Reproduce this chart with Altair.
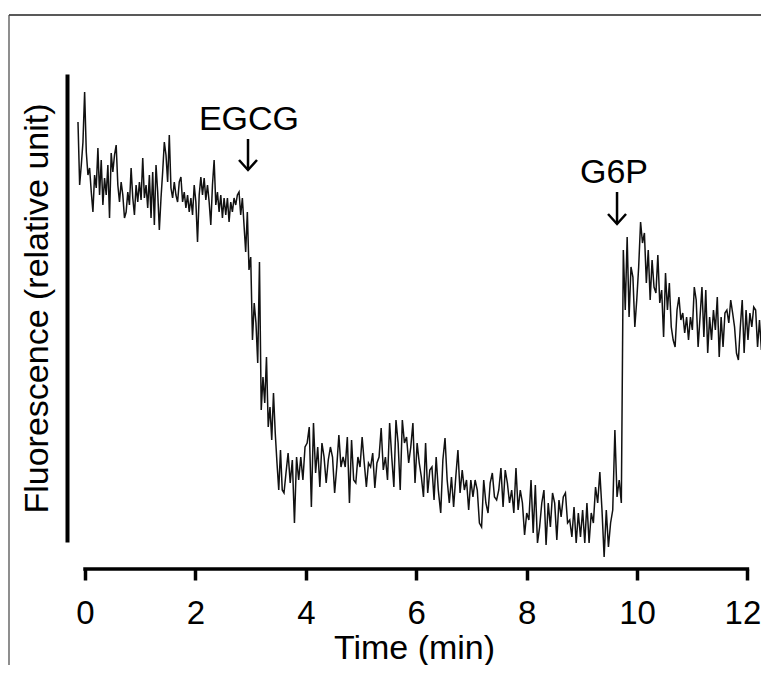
import altair as alt
import pandas as pd
import numpy as np

# ---- recorded trace, read off the figure (fluorescence in relative units) ----
# each segment: start time (min), end time (min), evenly sampled readings
SEG_A_T = [-0.127, 2.971]
SEG_A = [438, 375, 395, 418, 468, 408, 385, 392, 368, 348,
         385, 372, 412, 365, 400, 355, 382, 365, 395, 342,
         407, 388, 405, 415, 375, 358, 378, 365, 342, 348,
         368, 355, 392, 362, 345, 375, 358, 378, 360, 402,
         362, 375, 352, 385, 342, 388, 335, 395, 368, 330,
         362, 388, 418, 405, 378, 425, 372, 362, 378, 365,
         358, 378, 383, 358, 368, 352, 365, 348, 362, 345,
         375, 358, 318, 365, 383, 365, 382, 360, 375, 358,
         335, 375, 400, 355, 368, 348, 365, 342, 362, 345,
         362, 338, 358, 348, 362, 355, 365, 368, 345, 362,
         335, 308, 348, 290]

SEG_B1_T = [3.002, 3.605]
SEG_B1 = [303, 220, 257, 237, 197, 298, 150, 183, 157, 203,
          133, 153, 120, 167, 127, 97, 70, 110, 70, 67]

SEG_B2_T = [3.641, 6.400]
SEG_B2 = [87, 107, 77, 100, 37, 103, 80, 103, 80, 113,
          117, 133, 53, 137, 87, 113, 73, 117, 103, 77,
          100, 113, 103, 67, 93, 125, 93, 103, 93, 123,
          57, 120, 80, 77, 103, 93, 123, 97, 73, 97,
          93, 107, 72, 97, 103, 132, 90, 103, 80, 137,
          103, 73, 140, 117, 70, 140, 117, 123, 97, 113,
          137, 77, 117, 97, 83, 63, 117, 67, 90, 93,
          60, 103, 70]

SEG_C_T = [6.444, 9.716]
SEG_C = [47, 100, 122, 80, 57, 83, 53, 83, 110, 67,
         90, 70, 80, 50, 80, 63, 80, 70, 37, 33,
         80, 57, 47, 77, 87, 63, 60, 70, 92, 53,
         90, 77, 57, 70, 47, 92, 50, 70, 57, 25,
         47, 40, 80, 27, 75, 17, 33, 57, 70, 15,
         57, 33, 67, 57, 20, 60, 43, 63, 67, 37,
         40, 23, 53, 17, 47, 23, 50, 17, 57, 17,
         47, 37, 73, 57, 88, 50, 3, 50, 13, 37,
         50, 130, 63, 80, 57]

SEG_D_T = [9.752, 12.288]
SEG_D = [310, 250, 323, 243, 293, 283, 233, 260, 293, 338,
         317, 327, 277, 310, 260, 300, 273, 267, 305, 257,
         270, 223, 287, 250, 277, 233, 220, 213, 250, 263,
         240, 247, 227, 243, 220, 243, 230, 273, 260, 213,
         243, 273, 223, 270, 207, 243, 220, 250, 230, 263,
         203, 243, 213, 247, 250, 237, 260, 247, 233, 207,
         200, 233, 260, 207, 250, 220, 247, 233, 253, 250,
         213, 240, 210, 243]

X_TICKS = [0, 2, 4, 6, 8, 10, 12]
AXIS_SPAN = [0, 12]

ANNOT_LABELS = ["EGCG", "G6P"]
ANNOT_T = [2.971, 9.583]
ANNOT_V = [430, 377]
ARROW_T = [2.953, 9.638]
ARROW_TOP = [421, 368]
ARROW_TIP = [390, 336]

FONT = "Liberation Sans"


def segment(tspan, vals):
    return pd.DataFrame({"t": np.linspace(tspan[0], tspan[1], len(vals)), "v": vals})


trace = pd.concat(
    [segment(SEG_A_T, SEG_A), segment(SEG_B1_T, SEG_B1), segment(SEG_B2_T, SEG_B2),
     segment(SEG_C_T, SEG_C), segment(SEG_D_T, SEG_D)],
    ignore_index=True,
)
trace["i"] = np.arange(len(trace))

x_enc = alt.X(
    "t:Q",
    scale=alt.Scale(domain=[-0.326, 12.246], nice=False, zero=False),
    axis=alt.Axis(
        values=X_TICKS, domain=False, grid=False, offset=27,
        tickSize=11, tickWidth=3.5, tickColor="black",
        labelFont=FONT, labelFontSize=33, labelColor="black", labelPadding=17,
        labelFlush=False,
        labelOffset={"condition": {"test": "datum.value === 12", "value": -5}, "value": 0},
        title="Time (min)", titleFont=FONT, titleFontSize=34, titleFontWeight="normal",
        titleColor="black", titleBaseline="alphabetic", titleY=89,
    ),
)
y_enc = alt.Y(
    "v:Q",
    scale=alt.Scale(domain=[18, 486], nice=False, zero=False),
    axis=alt.Axis(
        ticks=False, labels=False, grid=False, domain=True,
        domainWidth=4, domainColor="black",
        title="Fluorescence (relative unit)", titleFont=FONT, titleFontSize=34,
        titleFontWeight="normal", titleColor="black", titlePadding=13,
    ),
)

line = alt.Chart(trace).mark_line(color="#111111", strokeWidth=1.5).encode(
    x=x_enc, y=y_enc, order="i:Q"
)

axis_line = alt.Chart(pd.DataFrame({"t": [AXIS_SPAN[0]], "t2": [AXIS_SPAN[1]]})).mark_rule(
    color="black", strokeWidth=3.5, strokeCap="square"
).encode(x=x_enc, x2="t2:Q", y=alt.value(495))

annot = pd.DataFrame({"t": ANNOT_T, "v": ANNOT_V, "label": ANNOT_LABELS})
labels = alt.Chart(annot).mark_text(
    font=FONT, fontSize=34, color="black", align="center", baseline="alphabetic"
).encode(x=x_enc, y=y_enc, text="label:N")

arrows = pd.DataFrame({"t": ARROW_T, "v": ARROW_TIP, "v2": ARROW_TOP})
shafts = alt.Chart(arrows).mark_rule(color="black", strokeWidth=2.5).encode(
    x=x_enc, y=y_enc, y2="v2:Q"
)
heads = alt.Chart(arrows).mark_point(
    shape="M -0.9 -1 L 0 0 L 0.9 -1", size=400, filled=False,
    color="black", strokeWidth=2.5, opacity=1, strokeJoin="miter",
).encode(x=x_enc, y=y_enc)

frame = pd.DataFrame({"k": [0]})
frame_top = alt.Chart(frame).mark_rule(color="#222222", strokeWidth=1.6).encode(
    x=alt.value(-58), x2=alt.value(710), y=alt.value(-59)
)
frame_left = alt.Chart(frame).mark_rule(color="#444444", strokeWidth=1.2).encode(
    x=alt.value(-58), y=alt.value(-59), y2=alt.value(610)
)

chart = alt.layer(frame_top, frame_left, line, axis_line, shafts, heads, labels).properties(
    width=694,
    height=468,
    autosize=alt.AutoSizeParams(type="none"),
    padding={"left": 59, "top": 66, "right": 0, "bottom": 123},
    background="white",
).configure_view(stroke=None)

chart.save("out.html", embed_options={"renderer": "svg", "actions": False})
